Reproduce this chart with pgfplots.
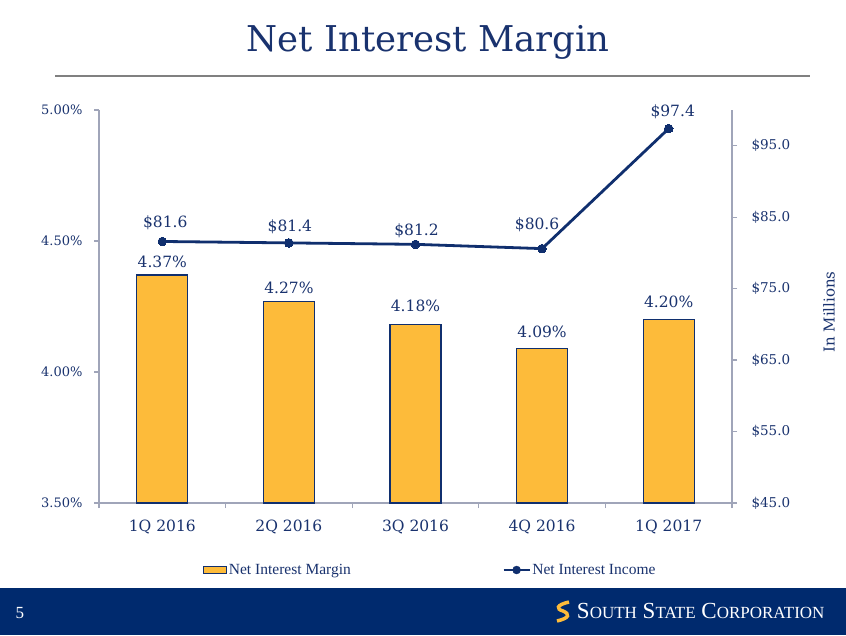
\documentclass[border=0pt]{standalone}
\usepackage{pgfplots}
\usepackage{pgfplotstable}
\pgfplotsset{compat=1.18}
\usepackage{fontspec}
\setmainfont{DejaVu Serif}
\newfontfamily\legfont{Liberation Serif}
\definecolor{navy}{RGB}{16,47,110}
\definecolor{txtnavy}{RGB}{25,50,110}
\definecolor{gold}{RGB}{253,187,58}
\definecolor{axgray}{RGB}{160,165,185}
\definecolor{band}{RGB}{0,42,110}
\definecolor{sepgray}{RGB}{128,128,128}

\pgfplotstableread{
x nim dy
0 4.37 13
1 4.27 13
2 4.18 19
3 4.09 17
4 4.20 18
}\nimtable
\pgfplotstableread{
x nii dx dy
0 81.6 3 19
1 81.4 1 16
2 81.2 1 14
3 80.6 -5 24
4 97.4 4 17
}\niitable

\begin{document}
\begin{tikzpicture}
\path[use as bounding box, fill=white] (0pt,0pt) rectangle (846pt,635pt);
% title
\node[text=txtnavy, font=\fontsize{35.5}{40}\selectfont, anchor=base] at (428pt,583pt) {Net Interest Margin};
\draw[sepgray, line width=2.5pt] (55pt,559pt) -- (810pt,559pt);

\begin{axis}[
  at={(99pt,132pt)}, anchor=south west,
  scale only axis, width=633pt, height=393pt,
  xmin=-0.5, xmax=4.5, ymin=3.5, ymax=5.0,
  axis x line=bottom, axis y line=left,
  axis line style={axgray, line width=1.2pt, -},
  xtick={-0.5,0.5,1.5,2.5,3.5,4.5}, xticklabels={,,,,,},
  extra x ticks={0,1,2,3,4},
  extra x tick labels={1Q 2016,2Q 2016,3Q 2016,4Q 2016,1Q 2017},
  extra x tick style={major tick length=0pt},
  ytick={3.5,4,4.5,5},
  yticklabel={\pgfmathprintnumber[fixed,fixed zerofill,precision=2]{\tick}\%},
  /pgf/number format/assume math mode=true,
  tick align=outside, major tick length=5pt,
  tick style={axgray, line width=1.2pt},
  yticklabel style={text=txtnavy, font=\fontsize{13}{15}\selectfont, xshift=-8pt},
  xticklabel style={text=txtnavy, font=\fontsize{15.5}{18}\selectfont, yshift=-13pt},
  legend style={at={(0.1643,-0.1705)}, anchor=west, draw=none, fill=none,
    inner sep=0pt, font=\legfont\fontsize{15.5}{18}\selectfont, text=txtnavy,
    nodes={inner sep=1.5pt},
    /tikz/every even column/.append style={column sep=150pt}},
  legend columns=2, legend cell align=left,
]
\addplot[ybar, bar width=51pt, fill=gold, draw=navy, line width=1.3pt,
  visualization depends on={\thisrow{dy} \as \dy},
  nodes near coords={\pgfmathprintnumber[fixed,fixed zerofill,precision=2]{\pgfplotspointmeta}\%},
  every node near coord/.append style={anchor=center, yshift=\dy pt, text=txtnavy, font=\fontsize{15.5}{18}\selectfont},
  legend image code/.code={\draw[fill=gold,draw=navy,line width=1.2pt] (0pt,-3.5pt) rectangle (23pt,3.5pt);}
] table[x=x,y=nim] {\nimtable};
\addlegendentry{Net Interest Margin}
\addlegendimage{legend image code/.code={\draw[navy,line width=2.5pt] (0pt,0pt) -- (26pt,0pt); \fill[navy] (13pt,0pt) circle (4pt);}}
\addlegendentry{Net Interest Income}
\end{axis}

\begin{axis}[
  at={(99pt,132pt)}, anchor=south west,
  scale only axis, width=633pt, height=393pt,
  xmin=-0.5, xmax=4.5, ymin=45, ymax=100,
  axis x line=none, axis y line=right,
  axis line style={axgray, line width=1.2pt, -},
  ytick={45,55,65,75,85,95},
  yticklabel={\$\pgfmathprintnumber[fixed,fixed zerofill,precision=1]{\tick}},
  /pgf/number format/assume math mode=true,
  tick align=outside, major tick length=5pt,
  tick style={axgray, line width=1.2pt},
  yticklabel style={text=txtnavy, font=\fontsize{13.5}{15}\selectfont, xshift=11pt},
  clip=false,
]
\addplot[navy, line width=2.8pt, mark=*, mark size=4.3pt, mark options={fill=navy, draw=navy, line width=0pt},
  visualization depends on={\thisrow{dx} \as \dx},
  visualization depends on={\thisrow{dy} \as \dy},
  nodes near coords={\$\pgfmathprintnumber[fixed,fixed zerofill,precision=1]{\pgfplotspointmeta}},
  every node near coord/.append style={anchor=center, xshift=\dx pt, yshift=\dy pt, text=txtnavy, font=\fontsize{15.5}{18}\selectfont}
] table[x=x,y=nii] {\niitable};
\end{axis}

\node[rotate=90, text=txtnavy, font=\fontsize{15}{18}\selectfont] at (829pt,323pt) {In Millions};

% footer band
\fill[band] (0pt,0pt) rectangle (846pt,47pt);
\node[white, font=\legfont\fontsize{17}{20}\selectfont] at (20pt,22pt) {5};
\draw[gold, line width=3.5pt] (569pt,33pt) .. controls (556pt,30pt) and (556pt,26pt) .. (563pt,24pt) .. controls (570pt,21pt) and (570pt,17pt) .. (557pt,14pt);
\node[white, anchor=base east, font=\legfont\fontsize{23}{26}\selectfont] at (828pt,17pt)
  {S{\fontsize{17}{20}\selectfont OUTH} S{\fontsize{17}{20}\selectfont TATE} C{\fontsize{17}{20}\selectfont ORPORATION}};
\end{tikzpicture}
\end{document}
